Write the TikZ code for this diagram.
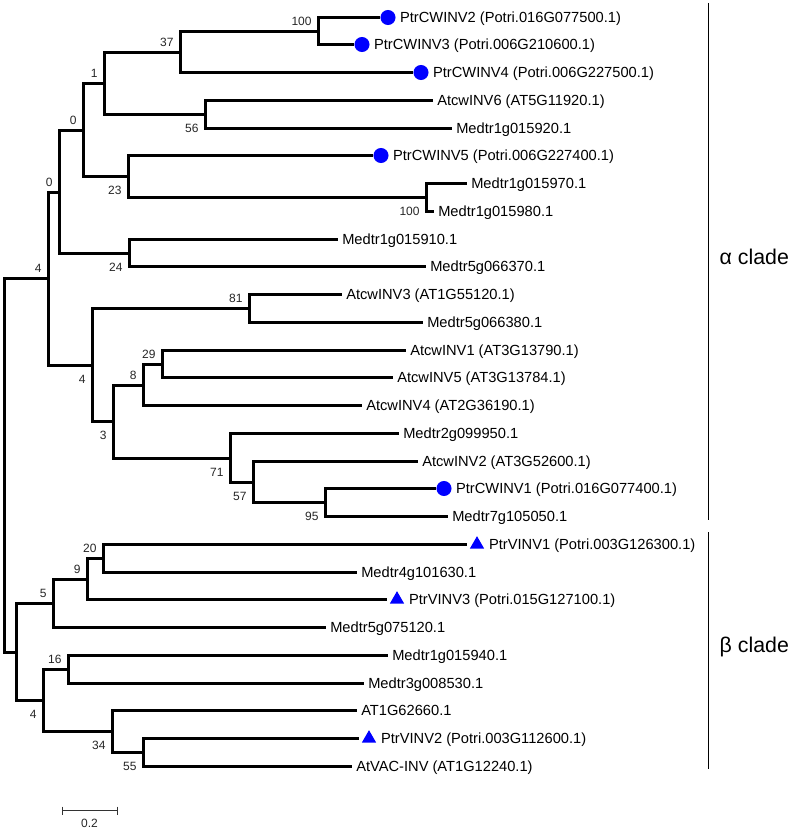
\documentclass[tikz,border=0pt]{standalone}
\usepackage{fontspec}
\setmainfont{Liberation Sans}
\usetikzlibrary{shapes.geometric, positioning, calc}

\begin{document}
\begin{tikzpicture}[x=0.75pt, y=-0.75pt,
            branch/.style={line width=2.25pt},
            leaf/.style={anchor=west, inner sep=3pt, text height=0.72em, text depth=0pt,
                font=\fontsize{11}{13}\selectfont},
            dot/.style={circle, fill=blue, inner sep=0pt, minimum size=11.3pt},
            tri/.style={regular polygon, regular polygon sides=3, fill=blue, inner sep=0pt, minimum size=12.5pt},
            boot/.style={inner sep=0pt, font=\fontsize{9}{10}\selectfont, text=black!85},
            bsup/.style={boot, anchor=south east, xshift=-5pt, yshift=4pt},
            bsdn/.style={boot, anchor=north east, xshift=-5pt, yshift=-7.3pt},
            clade/.style={line width=1pt},
            cladetext/.style={anchor=west, font=\fontsize{16}{19}\selectfont},
            scalebar/.style={line width=0.75pt, black!80}]

    \useasboundingbox (0,0) rectangle (796,830);

    % leaves
    \node[dot] (m1) at (388,17.5) {};
    \node[leaf, right=0pt of m1] (l1) {PtrCWINV2 (Potri.016G077500.1)};
    \node[dot] (m2) at (362,44.5) {};
    \node[leaf, right=0pt of m2] (l2) {PtrCWINV3 (Potri.006G210600.1)};
    \node[dot] (m3) at (421,72.5) {};
    \node[leaf, right=0pt of m3] (l3) {PtrCWINV4 (Potri.006G227500.1)};
    \node[leaf] (l4) at (433,100.5) {AtcwINV6 (AT5G11920.1)};
    \node[leaf] (l5) at (452,128.5) {Medtr1g015920.1};
    \node[dot] (m6) at (381,155.5) {};
    \node[leaf, right=0pt of m6] (l6) {PtrCWINV5 (Potri.006G227400.1)};
    \node[leaf] (l7) at (467,183.5) {Medtr1g015970.1};
    \node[leaf] (l8) at (434,211.5) {Medtr1g015980.1};
    \node[leaf] (l9) at (338,239.5) {Medtr1g015910.1};
    \node[leaf] (l10) at (426,266.5) {Medtr5g066370.1};
    \node[leaf] (l11) at (342,294.5) {AtcwINV3 (AT1G55120.1)};
    \node[leaf] (l12) at (423,322.5) {Medtr5g066380.1};
    \node[leaf] (l13) at (406,350.5) {AtcwINV1 (AT3G13790.1)};
    \node[leaf] (l14) at (393,377.5) {AtcwINV5 (AT3G13784.1)};
    \node[leaf] (l15) at (362,405.5) {AtcwINV4 (AT2G36190.1)};
    \node[leaf] (l16) at (399,433.5) {Medtr2g099950.1};
    \node[leaf] (l17) at (418,461.5) {AtcwINV2 (AT3G52600.1)};
    \node[dot] (m18) at (444,488.5) {};
    \node[leaf, right=0pt of m18] (l18) {PtrCWINV1 (Potri.016G077400.1)};
    \node[leaf] (l19) at (448,516.5) {Medtr7g105050.1};
    \node[tri] (m20) at (477,544.5) {};
    \node[leaf, right=2pt of m20] (l20) {PtrVINV1 (Potri.003G126300.1)};
    \node[leaf] (l21) at (357,572.5) {Medtr4g101630.1};
    \node[tri] (m22) at (397,599.5) {};
    \node[leaf, right=2pt of m22] (l22) {PtrVINV3 (Potri.015G127100.1)};
    \node[leaf] (l23) at (326,627.5) {Medtr5g075120.1};
    \node[leaf] (l24) at (388,655.5) {Medtr1g015940.1};
    \node[leaf] (l25) at (364,683.5) {Medtr3g008530.1};
    \node[leaf] (l26) at (357,710.5) {AT1G62660.1};
    \node[tri] (m27) at (369,738.5) {};
    \node[leaf, right=2pt of m27] (l27) {PtrVINV2 (Potri.003G112600.1)};
    \node[leaf] (l28) at (352,766.5) {AtVAC-INV (AT1G12240.1)};

    % internal nodes
    \coordinate (nA) at (318.5,31.5);
    \coordinate (nB) at (180.5,52.5);
    \coordinate (nD) at (205.5,114.5);
    \coordinate (nC) at (104.5,83.5);
    \coordinate (nG) at (426.5,197.5);
    \coordinate (nF) at (128.5,176.5);
    \coordinate (nE) at (83.5,130.5);
    \coordinate (nI) at (129.5,253.5);
    \coordinate (nH) at (59.5,192.5);
    \coordinate (nK) at (249.5,308.5);
    \coordinate (nM) at (162.5,364.5);
    \coordinate (nN) at (143.5,385.5);
    \coordinate (nR) at (325.5,502.5);
    \coordinate (nQ) at (253.5,482.5);
    \coordinate (nP) at (230.5,458.5);
    \coordinate (nO) at (113.5,421.5);
    \coordinate (nL) at (92.5,365.5);
    \coordinate (nJ) at (48.5,278.5);
    \coordinate (nS) at (103.5,558.5);
    \coordinate (nT) at (87.5,579.5);
    \coordinate (nU) at (53.5,603.5);
    \coordinate (nV) at (68.5,669.5);
    \coordinate (nX) at (143.5,752.5);
    \coordinate (nW) at (112.5,731.5);
    \coordinate (nY) at (43.5,700.5);
    \coordinate (nZ) at (16.5,652.5);
    \coordinate (root) at (4.5,465.5);

    % branches
    \draw[branch] (nA) |- (m1.west) (nA) |- (m2.west);
    \draw[branch] (nB) |- (nA) (nB) |- (m3.west);
    \draw[branch] (nD) |- (l4.west) (nD) |- (l5.west);
    \draw[branch] (nC) |- (nB) (nC) |- (nD);
    \draw[branch] (nG) |- (l7.west) (nG) |- (l8.west);
    \draw[branch] (nF) |- (m6.west) (nF) |- (nG);
    \draw[branch] (nE) |- (nC) (nE) |- (nF);
    \draw[branch] (nI) |- (l9.west) (nI) |- (l10.west);
    \draw[branch] (nH) |- (nE) (nH) |- (nI);
    \draw[branch] (nK) |- (l11.west) (nK) |- (l12.west);
    \draw[branch] (nM) |- (l13.west) (nM) |- (l14.west);
    \draw[branch] (nN) |- (nM) (nN) |- (l15.west);
    \draw[branch] (nR) |- (m18.west) (nR) |- (l19.west);
    \draw[branch] (nQ) |- (l17.west) (nQ) |- (nR);
    \draw[branch] (nP) |- (l16.west) (nP) |- (nQ);
    \draw[branch] (nO) |- (nN) (nO) |- (nP);
    \draw[branch] (nL) |- (nK) (nL) |- (nO);
    \draw[branch] (nJ) |- (nH) (nJ) |- (nL);
    \draw[branch] (nS) |- (l21.west);
    \draw[branch, shorten >=4pt] (nS) |- (m20.west);
    \draw[branch] (nT) |- (nS);
    \draw[branch, shorten >=4pt] (nT) |- (m22.west);
    \draw[branch] (nU) |- (nT) (nU) |- (l23.west);
    \draw[branch] (nV) |- (l24.west) (nV) |- (l25.west);
    \draw[branch] (nX) |- (l28.west);
    \draw[branch, shorten >=4pt] (nX) |- (m27.west);
    \draw[branch] (nW) |- (l26.west) (nW) |- (nX);
    \draw[branch] (nY) |- (nV) (nY) |- (nW);
    \draw[branch] (nZ) |- (nU) (nZ) |- (nY);
    \draw[branch] (root) |- (nJ) (root) |- (nZ);

    % bootstrap values
    \node[bsup] (bA) at (nA) {100};
    \node[bsup] (bB) at (nB) {37};
    \node[bsup] (bC) at (nC) {1};
    \node[bsdn] (bD) at (nD) {56};
    \node[bsup] (bE) at (nE) {0};
    \node[bsdn] (bF) at (nF) {23};
    \node[bsdn] (bG) at (nG) {100};
    \node[bsup] (bH) at (nH) {0};
    \node[bsdn] (bI) at (nI) {24};
    \node[bsup] (bJ) at (nJ) {4};
    \node[bsup] (bK) at (nK) {81};
    \node[bsdn] (bL) at (nL) {4};
    \node[bsup] (bM) at (nM) {29};
    \node[bsup] (bN) at (nN) {8};
    \node[bsdn] (bO) at (nO) {3};
    \node[bsdn] (bP) at (nP) {71};
    \node[bsdn] (bQ) at (nQ) {57};
    \node[bsdn] (bR) at (nR) {95};
    \node[bsup] (bS) at (nS) {20};
    \node[bsup] (bT) at (nT) {9};
    \node[bsup] (bU) at (nU) {5};
    \node[bsup] (bV) at (nV) {16};
    \node[bsdn] (bW) at (nW) {34};
    \node[bsdn] (bX) at (nX) {55};
    \node[bsdn] (bY) at (nY) {4};

    % clades
    \coordinate (aTop) at (708.5,3);
    \coordinate (aBot) at (708.5,520);
    \coordinate (bTop) at (708.5,532);
    \coordinate (bBot) at (708.5,769);
    \draw[clade] (aTop) -- (aBot);
    \draw[clade] (bTop) -- (bBot);
    \node[cladetext] (alpha) at (715,257) {α clade};
    \node[cladetext] (beta) at (715,647) {β clade};

    % scale
    \coordinate (s1) at (62,810.5);
    \coordinate (s2) at (117,810.5);
    \draw[scalebar] (s1) -- (s2);
    \draw[scalebar] ($(s1)+(0,-4)$) -- ($(s1)+(0,4)$);
    \draw[scalebar] ($(s2)+(0,-4)$) -- ($(s2)+(0,4)$);
    \node[boot] (scale) at (89.5,823) {0.2};

\end{tikzpicture}
\end{document}
